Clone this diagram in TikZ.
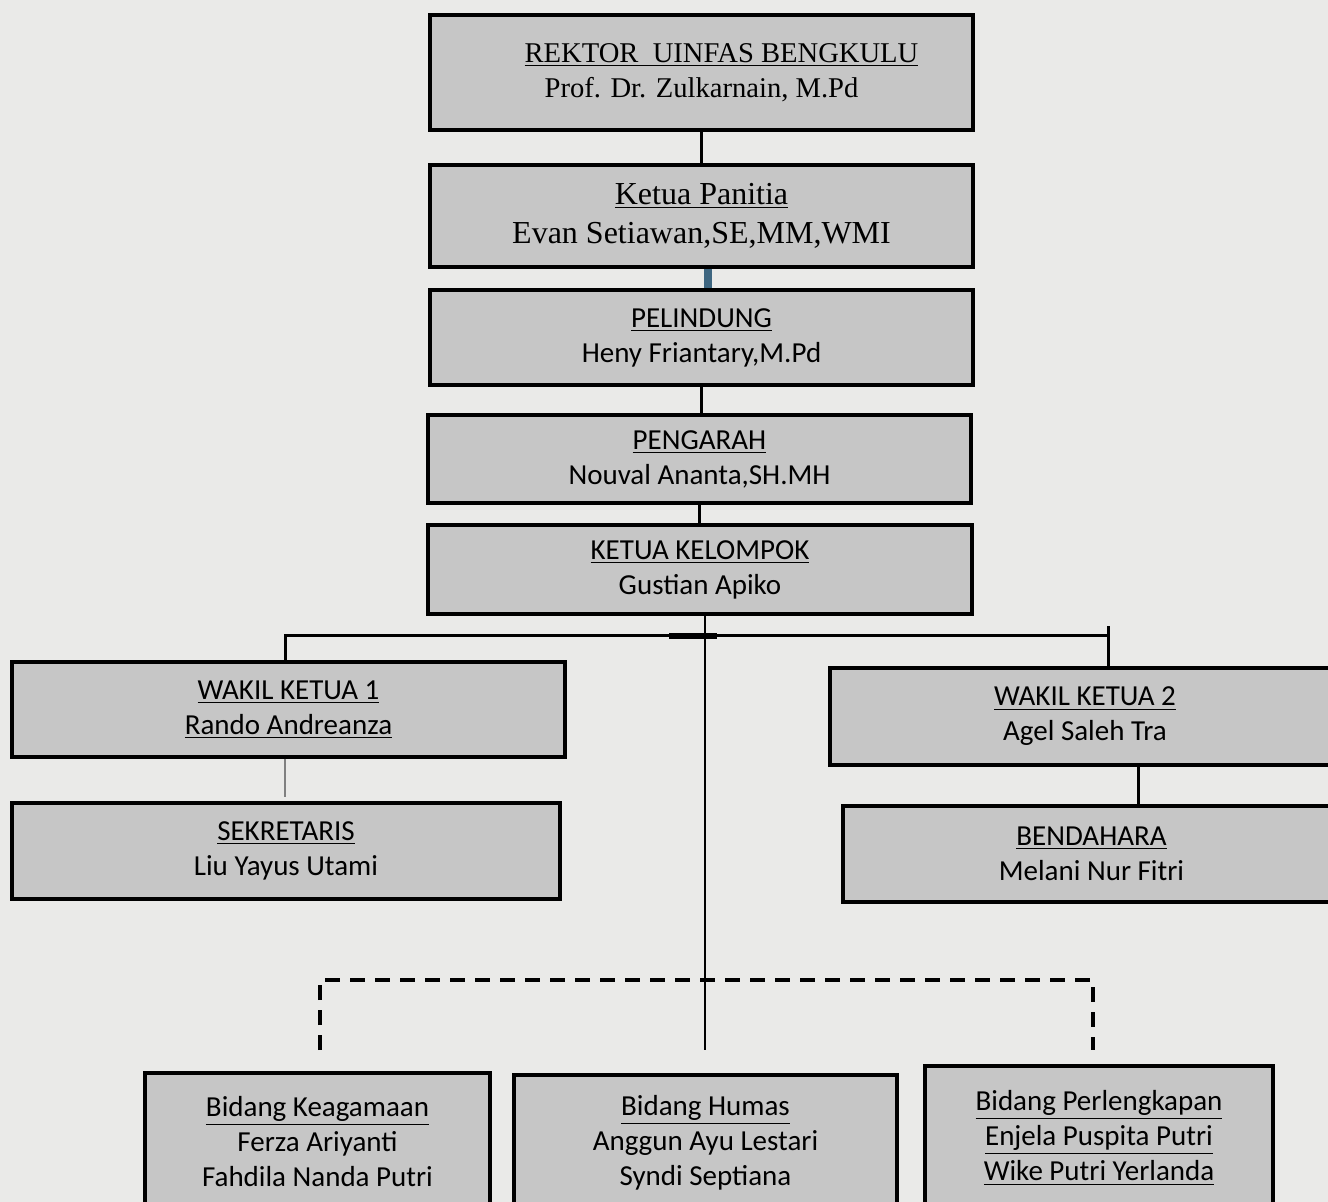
\documentclass[tikz,border=0pt]{standalone}
\usepackage{fontspec}
\setmainfont{Liberation Serif}
\newfontfamily\calibri{Carlito}
\usepackage{xcolor}
\usetikzlibrary{calc, positioning, backgrounds}
\definecolor{boxgray}{RGB}{198,198,198}
\definecolor{papergray}{RGB}{234,234,232}
\definecolor{linkblue}{RGB}{62,102,128}
\tikzset{
    orgnode/.style = {draw, rectangle, fill=boxgray, line width=2pt, inner sep=0em},
    serifnode/.style = {orgnode, font=\fontsize{16}{19.5}\selectfont},
    sansnode/.style = {orgnode, font=\calibri\fontsize{14.5}{17.5}\selectfont},
    connect/.style = {black, line width=1.5pt},
    thinconnect/.style = {black, line width=0.9pt},
    linkbar/.style = {draw=black, line width=4pt, color=linkblue},
    dashconnect/.style = {black, line width=2pt, dash pattern=on 7.5pt off 5pt},
    every text node part/.style={align=center}
}

\begin{document}
\begin{tikzpicture}[x=0.5pt, y=-0.5pt]
    \useasboundingbox [fill=papergray] (0,0) rectangle (1328,1202);

    \node [name=rektor, serifnode, font=\fontsize{14.3}{16.5}\selectfont, 
        minimum width=271.5pt, minimum height=57.5pt] at (701.5,72.5) 
        {\hspace*{20pt}\underline{REKTOR\ \ UINFAS BENGKULU}\\[1pt]Prof. Dr. Zulkarnain, M.Pd};
    \node [name=ketua, serifnode, minimum width=271.5pt, minimum height=51pt] at (701.5,216) 
        {\underline{Ketua Panitia}\\Evan Setiawan,SE,MM,WMI};
    \node [name=pelindung, sansnode, minimum width=271.5pt, minimum height=47.5pt] at (701.5,337.5) 
        {\underline{PELINDUNG}\\Heny Friantary,M.Pd};
    \node [name=pengarah, sansnode, minimum width=271.5pt, minimum height=44pt] at (699.5,459) 
        {\underline{PENGARAH}\\Nouval Ananta,SH.MH};
    \node [name=ketuakel, sansnode, minimum width=272pt, minimum height=44.5pt] at (700,569.5) 
        {\underline{KETUA KELOMPOK}\\Gustian Apiko};

    \node [name=wakil1, sansnode, minimum width=276.5pt, minimum height=47.5pt] at (288.5,709.5) 
        {\underline{WAKIL KETUA 1}\\\underline{Rando Andreanza}};
    \node [name=wakil2, sansnode, minimum width=255pt, minimum height=48.5pt] at (1085,716.5) 
        {\underline{WAKIL KETUA 2}\\Agel Saleh Tra};
    \node [name=sekretaris, sansnode, minimum width=274pt, minimum height=48pt] at (286,851) 
        {\underline{SEKRETARIS}\\Liu Yayus Utami};
    \node [name=bendahara, sansnode, minimum width=248.5pt, minimum height=48pt] at (1091.5,854) 
        {\underline{BENDAHARA}\\Melani Nur Fitri};

    \node [name=keagamaan, sansnode, minimum width=172.5pt, minimum height=68.5pt] at (317.5,1141.5) 
        {\underline{Bidang Keagamaan}\\Ferza Ariyanti\\Fahdila Nanda Putri};
    \node [name=humas, sansnode, minimum width=191.5pt, minimum height=67.5pt] at (705.5,1142.5) 
        {\underline{Bidang Humas}\\Anggun Ayu Lestari\\Syndi Septiana};
    \node [name=perlengkapan, sansnode, minimum width=174pt, minimum height=72pt] at (1099,1138) 
        {\underline{Bidang Perlengkapan}\\\underline{Enjela Puspita Putri}\\\underline{Wike Putri Yerlanda}};

    \coordinate (bar) at (703,636);
    \coordinate (dashbar) at (705,980);
    \coordinate (keatop) at (320,1050);
    \coordinate (humastop) at (705,1050);
    \coordinate (perltop) at (1093,1050);

    \draw [connect] (rektor.south) -- (ketua.north);
    \draw [linkbar] ([xshift=3.25pt]ketua.south) -- ([xshift=3.25pt]ketua.south |- pelindung.north);
    \draw [connect] (pelindung.south) -- (pelindung.south |- pengarah.north);
    \draw [connect] (pengarah.south) -- (pengarah.south |- ketuakel.north);

    \draw [connect] ([xshift=-1.75pt]wakil1.north) |- (bar) -| ([xshift=11.5pt]wakil2.north);
    \draw [connect] ([xshift=11.5pt]wakil2.north) -- ++(0,-40);
    \draw [line width=2.6pt] ([xshift=-17pt]bar) -- ([xshift=7pt]bar);
    \draw [thinconnect] (ketuakel.south -| humastop) -- (humastop);

    \draw [thinconnect, gray] ([xshift=-1.75pt]wakil1.south) -- ++(0,38);
    \draw [connect] ([xshift=26.5pt]wakil2.south) -- ([xshift=26.5pt]wakil2.south |- bendahara.north);

    \draw [dashconnect] (keatop) |- (dashbar) -| (perltop);
\end{tikzpicture}
\end{document}
